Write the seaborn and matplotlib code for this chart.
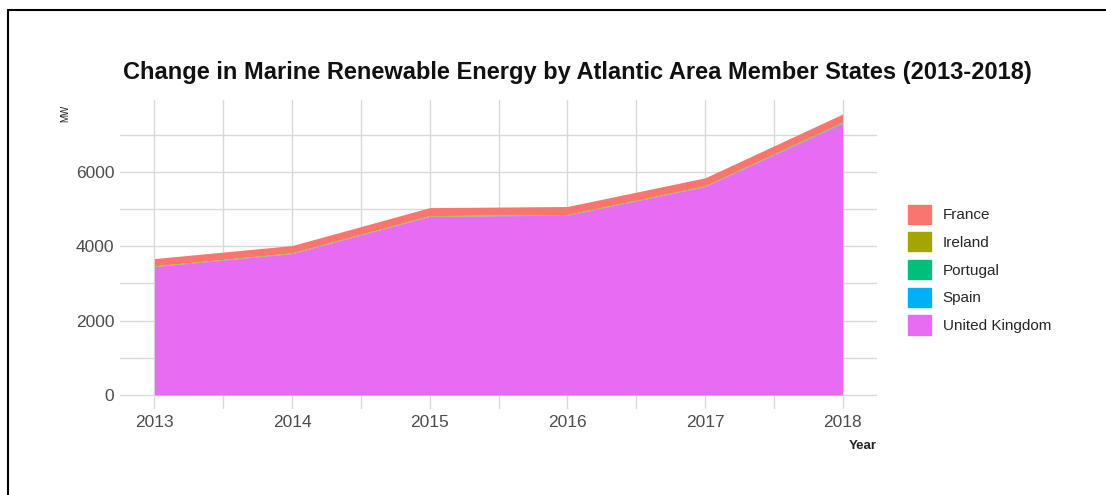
import numpy as np
import pandas as pd
import matplotlib.pyplot as plt
import matplotlib.patches as mpatches
from matplotlib.lines import Line2D
import seaborn as sns

# data (MW)
years = [2013, 2014, 2015, 2016, 2017, 2018]
france = [195, 195, 215, 215, 215, 215]
ireland = [15, 15, 15, 15, 15, 15]
portugal = [3, 3, 3, 3, 3, 15]
spain = [2, 2, 2, 2, 2, 5]
uk = [3450, 3800, 4800, 4830, 5600, 7300]

countries = ['France', 'Ireland', 'Portugal', 'Spain', 'United Kingdom']
colors = ['#F8766D', '#A3A500', '#00BF7D', '#00B0F6', '#E76BF3']

df = pd.DataFrame({'Year': years, 'France': france, 'Ireland': ireland,
                   'Portugal': portugal, 'Spain': spain, 'United Kingdom': uk})

sns.set_theme(style='whitegrid')
plt.rcParams['font.family'] = ['Liberation Sans', 'DejaVu Sans']

fig = plt.figure(figsize=(11.06, 4.95), dpi=100)
ax = fig.add_axes([120 / 1106, 1 - 409 / 495, 757 / 1106, 309 / 495])

# ggplot stacks first level on top -> draw UK first
order = countries[::-1]
ax.stackplot(df['Year'], [df[c] for c in order],
             colors=colors[::-1], linewidth=0)

total = df[countries].sum(axis=1).max()
pad = total * 0.05
ax.set_ylim(-pad, total + pad)
ax.set_xlim(2013 - 0.25, 2018 + 0.25)
ax.set_xticks(years)
ax.set_yticks([0, 2000, 4000, 6000])
ax.set_xticks(np.arange(2013.5, 2018, 1), minor=True)
ax.set_yticks([1000, 3000, 5000, 7000], minor=True)
ax.grid(True, which='both', color='#d9d9d9', linewidth=1.0)
ax.set_axisbelow(True)
for s in ax.spines.values():
    s.set_visible(False)
ax.tick_params(which='both', length=0, labelsize=12.5, labelcolor='#4d4d4d', pad=4)

ax.set_xlabel('Year', fontsize=9.5, color='#222222', fontweight='bold')
ax.xaxis.set_label_coords(1.0, -0.1)
ax.xaxis.label.set_horizontalalignment('right')
ax.set_ylabel('MW', fontsize=7, color='#222222')
ax.yaxis.set_label_coords(-0.072, 0.985)
ax.yaxis.label.set_verticalalignment('center')
ax.yaxis.label.set_horizontalalignment('right')

fig.text(577 / 1106, 1 - 72 / 495,
         'Change in Marine Renewable Energy by Atlantic Area Member States (2013-2018)',
         ha='center', va='center', fontsize=17, fontweight='bold', color='#111111')

handles = [mpatches.Patch(color=c, label=n) for c, n in zip(colors, countries)]
fig.legend(handles=handles, loc='upper left', bbox_to_anchor=(900 / 1106, 1 - 197 / 495),
           frameon=False, fontsize=11, handlelength=1.55, handleheight=1.55,
           labelspacing=0.56, handletextpad=0.75, borderpad=0)

# black frame lines (left and top) of the cropped screenshot
fig.add_artist(Line2D([8 / 1106, 8 / 1106], [0, 1 - 10 / 495], color='black',
                      linewidth=1.5, transform=fig.transFigure))
fig.add_artist(Line2D([8 / 1106, 1], [1 - 10 / 495, 1 - 10 / 495], color='black',
                      linewidth=1.5, transform=fig.transFigure))

fig.savefig('out.png', dpi=100)
